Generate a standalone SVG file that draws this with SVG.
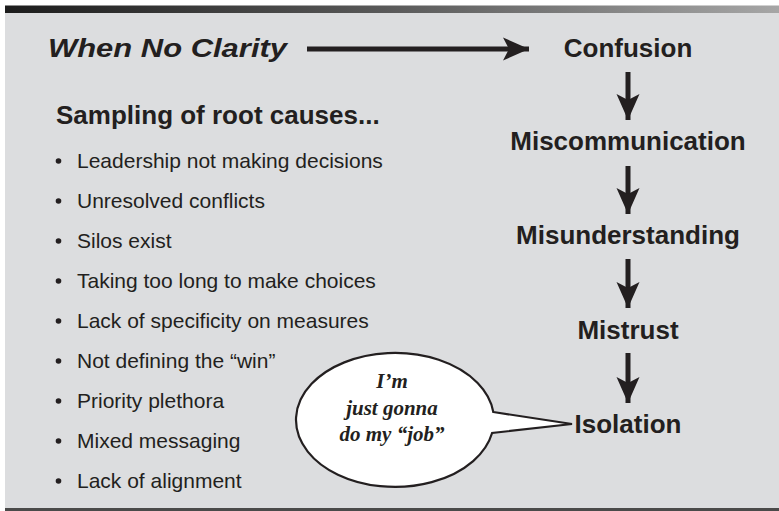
<svg xmlns="http://www.w3.org/2000/svg" width="779" height="511" viewBox="0 0 779 511">
  <defs>
    <linearGradient id="barGrad" x1="0" y1="0" x2="1" y2="0">
      <stop offset="0" stop-color="#1c1c1c"/>
      <stop offset="0.5" stop-color="#5a5a5a"/>
      <stop offset="1" stop-color="#a6a6a6"/>
    </linearGradient>
    <marker id="head" markerUnits="userSpaceOnUse" markerWidth="28" markerHeight="26" refX="26" refY="12" orient="auto">
      <path d="M0,0.5 L26,12 L0,23.5 L6,12 Z" fill="#231f20"/>
    </marker>
    <style>
      .title { font-family: "Liberation Sans", Arial, sans-serif; font-weight: bold; font-style: italic; font-size: 26px; fill: #231f20; }
      .stage { font-family: "Liberation Sans", Arial, sans-serif; font-weight: bold; font-size: 26px; fill: #231f20; text-anchor: middle; }
      .head2 { font-family: "Liberation Sans", Arial, sans-serif; font-weight: bold; font-size: 26px; fill: #231f20; }
      .item { font-family: "Liberation Sans", Arial, sans-serif; font-size: 21px; fill: #231f20; }
      .dot { fill: #231f20; }
      .bubbletext { font-family: "Liberation Serif", "DejaVu Serif", serif; font-weight: bold; font-style: italic; font-size: 21px; fill: #231f20; text-anchor: middle; }
      .conn { stroke: #231f20; stroke-width: 5; fill: none; marker-end: url(#head); }
    </style>
  </defs>

  <!-- background -->
  <rect x="0" y="0" width="779" height="511" fill="#ffffff"/>
  <rect x="5" y="13" width="774" height="495" fill="#dcdddf"/>
  <rect x="5" y="5.5" width="774" height="7.5" fill="url(#barGrad)"/>
  <rect x="5" y="508" width="774" height="3" fill="#4a4a4a"/>

  <g id="title">
    <text class="title" x="48" y="57" textLength="239" lengthAdjust="spacingAndGlyphs">When No Clarity</text>
  </g>

  <g id="connectors">
    <line class="conn" x1="307" y1="49" x2="529" y2="49"/>
    <line class="conn" x1="628" y1="72" x2="628" y2="120"/>
    <line class="conn" x1="628" y1="166" x2="628" y2="214"/>
    <line class="conn" x1="628" y1="259" x2="628" y2="308"/>
    <line class="conn" x1="628" y1="353" x2="628" y2="403"/>
  </g>

  <g id="confusion"><text class="stage" x="628" y="57">Confusion</text></g>
  <g id="miscommunication"><text class="stage" x="628" y="150">Miscommunication</text></g>
  <g id="misunderstanding"><text class="stage" x="628" y="244">Misunderstanding</text></g>
  <g id="mistrust"><text class="stage" x="628" y="339">Mistrust</text></g>
  <g id="isolation"><text class="stage" x="628" y="433">Isolation</text></g>

  <g id="root-causes">
    <text class="head2" x="56" y="124">Sampling of root causes...</text>
    <circle class="dot" cx="58.5" cy="161" r="2.8"/>
    <text class="item" x="77" y="168">Leadership not making decisions</text>
    <circle class="dot" cx="58.5" cy="201" r="2.8"/>
    <text class="item" x="77" y="208">Unresolved conflicts</text>
    <circle class="dot" cx="58.5" cy="241" r="2.8"/>
    <text class="item" x="77" y="248">Silos exist</text>
    <circle class="dot" cx="58.5" cy="281" r="2.8"/>
    <text class="item" x="77" y="288">Taking too long to make choices</text>
    <circle class="dot" cx="58.5" cy="321" r="2.8"/>
    <text class="item" x="77" y="328">Lack of specificity on measures</text>
    <circle class="dot" cx="58.5" cy="361" r="2.8"/>
    <text class="item" x="77" y="368">Not defining the “win”</text>
    <circle class="dot" cx="58.5" cy="401" r="2.8"/>
    <text class="item" x="77" y="408">Priority plethora</text>
    <circle class="dot" cx="58.5" cy="441" r="2.8"/>
    <text class="item" x="77" y="448">Mixed messaging</text>
    <circle class="dot" cx="58.5" cy="481" r="2.8"/>
    <text class="item" x="77" y="488">Lack of alignment</text>
  </g>

  <g id="speech-bubble">
    <path d="M493.3,412 L572,424 L492.1,433 A99 67 0 1 1 493.3,412 Z" fill="#ffffff" stroke="#231f20" stroke-width="2.2" stroke-linejoin="miter"/>
    <text class="bubbletext" x="392" y="388">I’m</text>
    <text class="bubbletext" x="392" y="415">just gonna</text>
    <text class="bubbletext" x="392" y="441">do my “job”</text>
  </g>
</svg>
